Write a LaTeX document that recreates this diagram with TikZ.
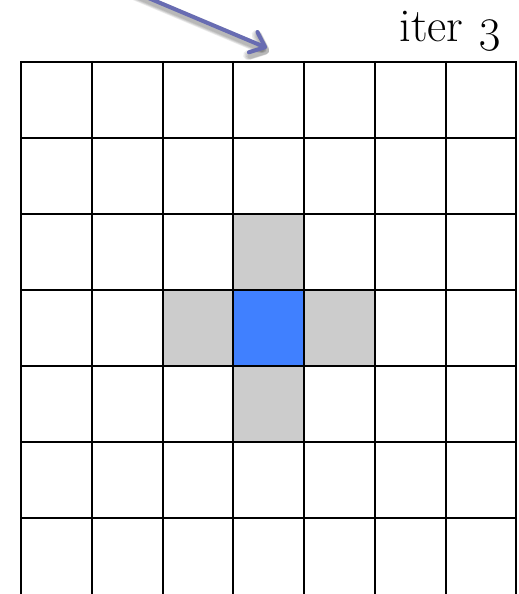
\documentclass[tikz,border=0pt]{standalone}
\usepackage{fontspec}
\setmainfont{Latin Modern Roman}[Numbers=OldStyle]
\usetikzlibrary{arrows.meta}
\definecolor{cellblue}{RGB}{64,128,255}
\definecolor{cellgray}{RGB}{204,204,204}
\definecolor{arrowblue}{RGB}{104,108,178}
\tikzset{
  gridline/.style={line width=2pt, draw=black},
  nbcell/.style={fill=cellgray},
  centercell/.style={fill=cellblue},
  pointer/.style={draw=arrowblue, line width=4pt, line cap=round,
    -{Straight Barb[length=13pt,width=22pt,round]}},
  pointershadow/.style={draw=black, line width=5pt, line cap=round, opacity=0.08,
    -{Straight Barb[length=13pt,width=22pt,round]}},
  label/.style={font=\fontsize{47}{50}\selectfont, inner sep=0pt}
}
\begin{document}
\begin{tikzpicture}[x=1pt, y=-1pt]
\useasboundingbox (0,0) rectangle (519,594);
% cells
\def\cw{70.75}
\def\rh{76}
\fill[nbcell] (233.25,214) rectangle (304,290);
\fill[nbcell] (233.25,366) rectangle (304,442);
\fill[nbcell] (304,290) rectangle (374.75,366);
\fill[nbcell] (162.5,290) rectangle (233.25,366);
\fill[centercell] (233.25,290) rectangle (304,366);
% horizontal lines
\foreach \j in {0,...,6} {
  \draw[gridline] (21,62+\j*\rh) -- (516.25,62+\j*\rh);
}
% vertical lines
\foreach \i in {0,...,7} {
  \draw[gridline] (21+\i*\cw,61) -- (21+\i*\cw,594);
}
% label
\node[label, anchor=base east] (it) at (503,42) {iter 3};
% arrow
\coordinate (a0) at (120,-14);
\coordinate (a1) at (267,48);
\foreach \k in {1,...,4} {
  \draw[pointershadow, line width=4pt+\k*1.5pt] ([shift={(2,4)}]a0) -- ([shift={(2,4)}]a1);
}
\draw[pointer] (a0) -- (a1);
\end{tikzpicture}
\end{document}
